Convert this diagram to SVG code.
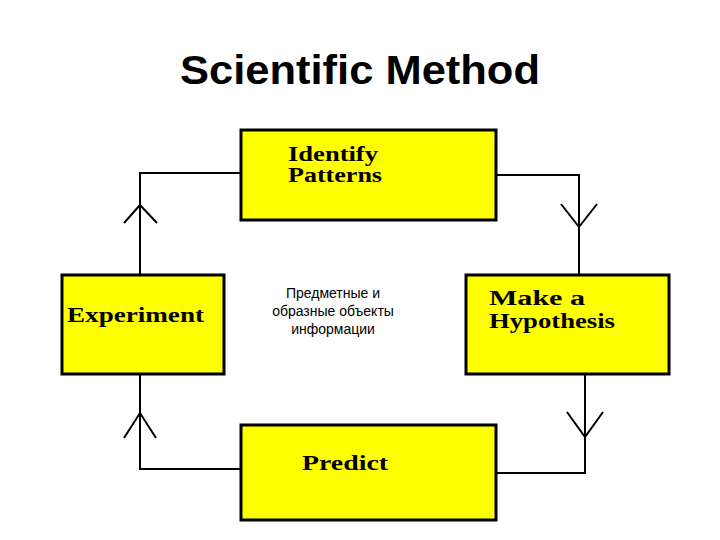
<svg xmlns="http://www.w3.org/2000/svg" width="720" height="540" viewBox="0 0 720 540">
<style>
.box{fill:#ffff00;stroke:#000;stroke-width:3}
.lbl{font-family:"Liberation Serif",serif;font-weight:bold;font-size:20px;fill:#000}
.ln{fill:none;stroke:#000;stroke-width:2}
</style>
<rect width="720" height="540" fill="#fff"/>
<text x="360" y="84" text-anchor="middle" font-family="Liberation Sans,Arial,sans-serif" font-weight="bold" font-size="40" textLength="360" lengthAdjust="spacingAndGlyphs" fill="#000">Scientific Method</text>
<g id="connectors">
<path class="ln" d="M241,173 H140 V274"/>
<path class="ln" d="M124,223 L140,205 L157,223"/>
<path class="ln" d="M241,469 H140 V374"/>
<path class="ln" d="M124,438 L140,413 L156,438"/>
<path class="ln" d="M496,175 H579 V275"/>
<path class="ln" d="M561,204 L579,227 L597,204"/>
<path class="ln" d="M496,473 H585 V374"/>
<path class="ln" d="M567,412 L585,437 L603,412"/>
</g>
<g id="identify"><rect class="box" x="241" y="130" width="255" height="90"/>
<text class="lbl" x="288" y="161" textLength="90" lengthAdjust="spacingAndGlyphs">Identify</text><text class="lbl" x="288" y="182" textLength="94" lengthAdjust="spacingAndGlyphs">Patterns</text></g>
<g id="experiment"><rect class="box" x="62" y="275" width="162" height="99"/>
<text class="lbl" x="67" y="322" textLength="137" lengthAdjust="spacingAndGlyphs">Experiment</text></g>
<g id="hypothesis"><rect class="box" x="466" y="275" width="203" height="99"/>
<text class="lbl" x="489" y="305" textLength="96" lengthAdjust="spacingAndGlyphs">Make a</text><text class="lbl" x="489" y="328" textLength="126" lengthAdjust="spacingAndGlyphs">Hypothesis</text></g>
<g id="predict"><rect class="box" x="241" y="425" width="255" height="95"/>
<text class="lbl" x="302" y="470" textLength="86" lengthAdjust="spacingAndGlyphs">Predict</text></g>
<g id="note" font-family="Liberation Sans,Arial,sans-serif" font-size="14" text-anchor="middle" fill="#000">
<text x="333" y="298">Предметные и</text><text x="333" y="316">образные объекты</text><text x="333" y="334">информации</text></g>
</svg>
